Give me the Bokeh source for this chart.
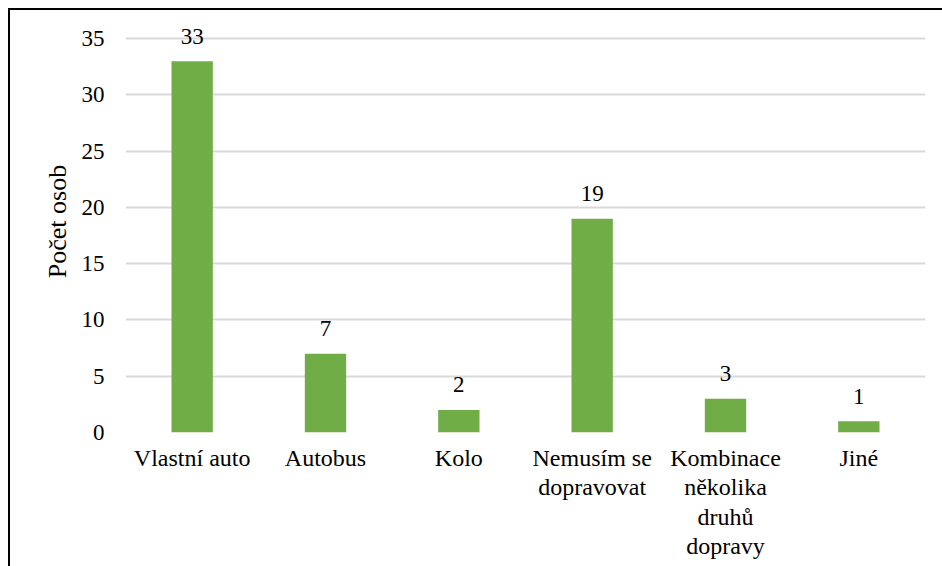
import math
from bokeh.plotting import figure
from bokeh.layouts import row
from bokeh.models import ColumnDataSource, Range1d, FixedTicker
from bokeh.core.properties import value
from bokeh.embed import file_html
from bokeh.resources import INLINE

categories = ["Vlastní auto", "Autobus", "Kolo", "Nemusím se\ndopravovat",
              "Kombinace\nněkolika\ndruhů\ndopravy", "Jiné"]
counts = [33, 7, 2, 19, 3, 1]
y_ticks = [0, 5, 10, 15, 20, 25, 30, 35]
y_title = "Počet osob"

FONT = "serif"
FS = "23px"
XFS = "24px"

src = ColumnDataSource(dict(cat=categories, val=counts, lab=[str(v) for v in counts]))

# --- left strip holding the vertical axis title ---
t = figure(width=65, height=558, x_range=Range1d(10, 73), y_range=Range1d(566, 10),
           x_axis_type=None, y_axis_type=None, output_backend="svg", toolbar_location=None,
           min_border_left=0, min_border_right=0, min_border_top=0, min_border_bottom=0)
t.styles = {"border-left": "2px solid black", "border-top": "2px solid black",
            "box-sizing": "border-box"}
t.outline_line_color = None
t.grid.visible = False
t.text(x=[56], y=[288], text=[y_title], angle=math.pi / 2, text_align="center",
       text_baseline="middle", text_font=value(FONT), text_font_size="26px", text_color="black")

# --- main chart ---
px_per_unit = 392 / 35
top_extra = 28 / px_per_unit

p = figure(x_range=categories, y_range=Range1d(0, 35 + top_extra),
           width=869, height=558, output_backend="svg", toolbar_location=None,
           min_border_left=52, min_border_right=17, min_border_top=0, min_border_bottom=136)
p.styles = {"border-top": "2px solid black", "box-sizing": "border-box"}
p.outline_line_color = None
p.background_fill_color = "white"
p.border_fill_color = "white"

p.vbar(x="cat", top="val", width=0.31, source=src, color="#70ad47", line_color=None)
p.text(x="cat", y="val", text="lab", source=src, text_align="center", text_baseline="middle",
       y_offset=-25, text_font=value(FONT), text_font_size=FS, text_color="black")

p.xgrid.grid_line_color = None
p.ygrid.grid_line_color = "#d9d9d9"
p.ygrid.grid_line_width = 2
p.yaxis.ticker = FixedTicker(ticks=y_ticks)

for ax in (p.xaxis, p.yaxis):
    ax.axis_line_color = None
    ax.major_tick_line_color = None
    ax.minor_tick_line_color = None
    ax.major_tick_out = 0
    ax.major_tick_in = 0
    ax.major_label_text_font = FONT
    ax.major_label_text_color = "black"

p.yaxis.major_label_text_font_size = FS
p.yaxis.major_label_standoff = 21
p.xaxis.major_label_text_font_size = XFS
p.xaxis.major_label_standoff = 12
p.xaxis.major_label_text_line_height = 1.14
p.x_range.range_padding = 0

layout = row(t, p)
layout.styles = {"margin-left": "8px", "margin-top": "8px"}

open("out.html", "w").write(file_html(layout, INLINE))
